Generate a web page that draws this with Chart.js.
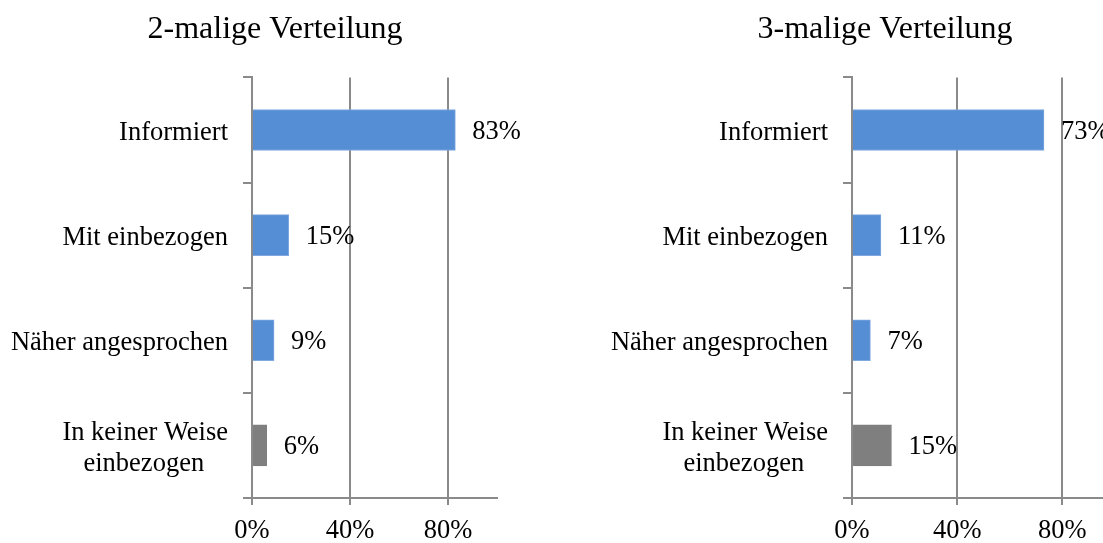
<!DOCTYPE html>
<html>
<head>
<meta charset="utf-8">
<script src="https://cdn.jsdelivr.net/npm/chart.js@4"></script>
<style>
  html, body { margin: 0; padding: 0; background: #fff; overflow: hidden; }
  .box { position: absolute; top: 0; height: 543px; }
</style>
</head>
<body>
<div class="box" style="left:0;width:550px"><canvas id="left"></canvas></div>
<div class="box" style="left:600px;width:570px"><canvas id="right"></canvas></div>
<script>
// data
const categories = ['Informiert', 'Mit einbezogen', 'Näher angesprochen', ['In keiner Weise', 'einbezogen\u2002\u2009\u2009']];
const values2x = [83, 15, 9, 6];
const values3x = [73, 11, 7, 15];
const xTicks = [0, 40, 80];
const titles = ['2-malige Verteilung', '3-malige Verteilung'];

const serif = '"Liberation Serif", "Times New Roman", serif';
const gridGrey = '#8a8a8a';
const blue = '#558ed5';
const grey = '#7f7f7f';

// draw "nn%" next to each bar
const barLabels = {
    id: 'barLabels',
    afterDatasetsDraw(chart) {
        const ctx = chart.ctx;
        const meta = chart.getDatasetMeta(0);
        const data = chart.data.datasets[0].data;
        ctx.save();
        ctx.font = '26.5px ' + serif;
        ctx.fillStyle = '#000';
        ctx.textAlign = 'left';
        ctx.textBaseline = 'middle';
        meta.data.forEach((bar, i) => {
            ctx.fillText(data[i] + '%', bar.x + 17, bar.y + 2);
        });
        ctx.restore();
    }
};

function makeChart(id, title, values, rightPad) {
    let ctx = document.getElementById(id).getContext('2d');
    return new Chart(ctx, {
        type: 'bar',
        data: {
            labels: categories,
            datasets: [{
                data: values,
                backgroundColor: values.map((v, i) => i === values.length - 1 ? grey : blue),
                borderColor: values.map((v, i) => i === values.length - 1 ? grey : '#7fa8df'),
                borderWidth: 1,
                borderSkipped: 'left',
                barThickness: 41,
            }]
        },
        options: {
            indexAxis: 'y',
            responsive: true,
            maintainAspectRatio: false,
            animation: false,
            layout: { padding: 0 },
            plugins: {
                legend: { display: false },
                tooltip: { enabled: false },
                title: {
                    display: true,
                    text: title,
                    color: '#000',
                    font: { family: serif, size: 32, weight: 'normal', lineHeight: 1.2 },
                    padding: { top: 10, bottom: 29 },
                },
            },
            scales: {
                y: {
                    type: 'category',
                    offset: true,
                    afterFit: s => { s.width = 252; },
                    grid: {
                        offset: true,
                        drawOnChartArea: false,
                        drawTicks: true,
                        tickLength: 9,
                        color: gridGrey,
                        lineWidth: 2,
                    },
                    border: { display: true, color: gridGrey, width: 2 },
                    ticks: {
                        color: '#000',
                        padding: 15,
                        labelOffset: 3,
                        font: { family: serif, size: 26.5, lineHeight: 1.15 },
                    },
                },
                // empty spacer on the right so the title centres over the whole canvas
                yPad: {
                    type: 'category',
                    axis: 'y',
                    position: 'right',
                    afterFit: s => { s.width = rightPad; },
                    grid: { display: false },
                    border: { display: false },
                    ticks: { display: false },
                },
                x: {
                    type: 'linear',
                    min: 0,
                    max: 100,
                    afterFit: s => { s.height = 45; },
                    afterBuildTicks: s => {
                        s.ticks = xTicks.map(v => ({ value: v }));
                    },
                    grid: {
                        drawOnChartArea: true,
                        drawTicks: true,
                        tickLength: 7,
                        color: gridGrey,
                        lineWidth: 2,
                    },
                    border: { display: true, color: gridGrey, width: 2 },
                    ticks: {
                        color: '#000',
                        padding: 11,
                        maxRotation: 0,
                        font: { family: serif, size: 26.5, lineHeight: 1.15 },
                        callback: v => v + '%',
                    },
                },
            },
        },
        plugins: [barLabels],
    });
}

makeChart('left', titles[0], values2x, 53);
makeChart('right', titles[1], values3x, 55);
</script>
</body>
</html>
